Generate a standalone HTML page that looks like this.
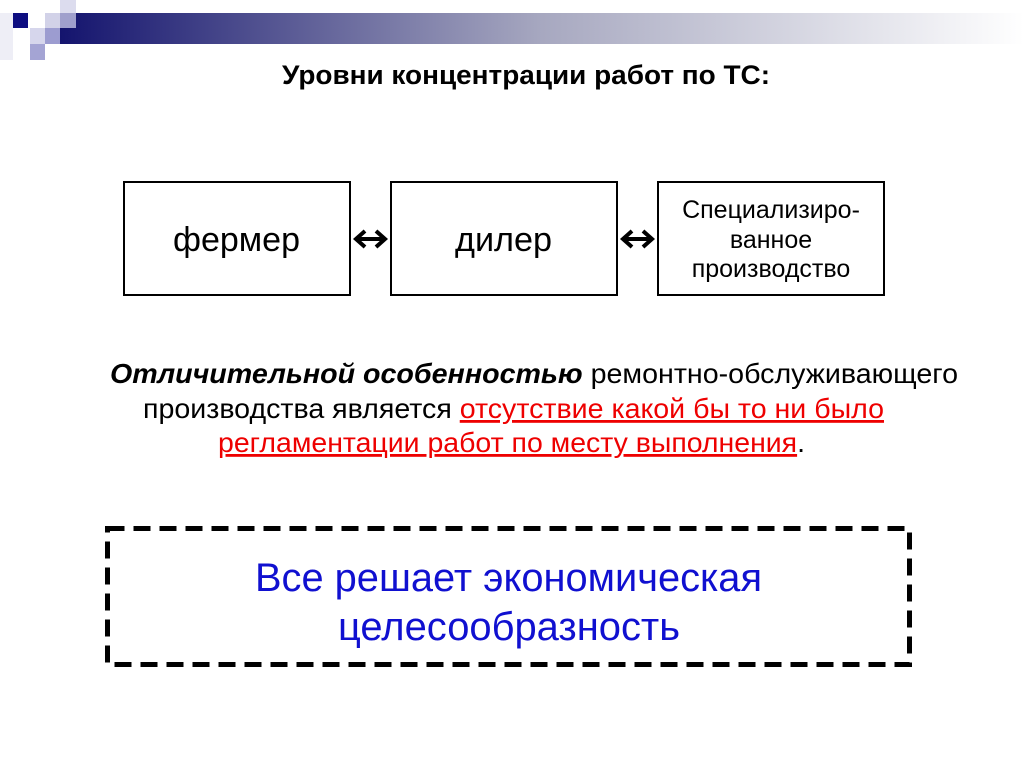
<!DOCTYPE html>
<html><head><meta charset="utf-8"><style>
html,body{margin:0;padding:0;background:#fff;}
svg{display:block;font-family:"Liberation Sans",Arial,sans-serif;}
</style></head><body>
<svg width="1024" height="767" viewBox="0 0 1024 767" xmlns="http://www.w3.org/2000/svg">
<defs>
<linearGradient id="g" x1="0" x2="1" y1="0" y2="0">
<stop offset="0" stop-color="#14146e"/>
<stop offset="0.5" stop-color="#a7a8c0"/>
<stop offset="1" stop-color="#ffffff"/>
</linearGradient>
</defs>
<rect x="0" y="0" width="1024" height="767" fill="#fff"/>
<rect x="60" y="13" width="964" height="31" fill="url(#g)"/>
<rect x="0" y="13" width="13" height="47" fill="#eeeef6"/>
<rect x="60" y="0" width="16" height="13" fill="#dcdcee"/>
<rect x="13" y="13" width="15" height="15" fill="#0d0d80"/>
<rect x="45" y="13" width="15" height="15" fill="#d2d2e8"/>
<rect x="60" y="13" width="16" height="15" fill="#a0a0cc"/>
<rect x="30" y="28" width="15" height="16" fill="#d6d6ec"/>
<rect x="45" y="28" width="15" height="16" fill="#9c9cd0"/>
<rect x="30" y="44" width="15" height="16" fill="#a4a4d4"/>

<text x="282" y="84" font-size="27" font-weight="bold" textLength="488" lengthAdjust="spacingAndGlyphs">Уровни концентрации работ по ТС:</text>

<g fill="#fff" stroke="#000" stroke-width="2">
<rect x="124" y="182" width="226" height="113"/>
<rect x="391" y="182" width="226" height="113"/>
<rect x="658" y="182" width="226" height="113"/>
</g>
<text x="173" y="251" font-size="34" textLength="127" lengthAdjust="spacingAndGlyphs">фермер</text>
<text x="455" y="251" font-size="34" textLength="97" lengthAdjust="spacingAndGlyphs">дилер</text>
<g font-size="25" text-anchor="middle">
<text x="771" y="218">Специализиро-</text>
<text x="771" y="248">ванное</text>
<text x="771" y="277">производство</text>
</g>

<g stroke="#000" stroke-width="4" fill="none" stroke-linejoin="miter">
<line x1="356" y1="239" x2="385" y2="239"/>
<polyline points="365,231 356,239 365,247"/>
<polyline points="376,231 385,239 376,247"/>
<line x1="623" y1="239" x2="652" y2="239"/>
<polyline points="632,231 623,239 632,247"/>
<polyline points="643,231 652,239 643,247"/>
</g>

<g font-size="28">
<text x="110" y="383" textLength="848" lengthAdjust="spacingAndGlyphs"><tspan font-weight="bold" font-style="italic">Отличительной особенностью</tspan> ремонтно-обслуживающего</text>
<text x="143" y="418" textLength="741" lengthAdjust="spacingAndGlyphs">производства является <tspan fill="#e00" text-decoration="underline">отсутствие какой бы то ни было</tspan></text>
<text x="218" y="452" textLength="587" lengthAdjust="spacingAndGlyphs"><tspan fill="#e00" text-decoration="underline">регламентации работ по месту выполнения</tspan>.</text>
</g>

<rect x="107.5" y="528.5" width="802" height="136" fill="none" stroke="#000" stroke-width="5" stroke-dasharray="17 9"/>
<g font-size="40" fill="#1010d0">
<text x="255" y="591" textLength="507" lengthAdjust="spacingAndGlyphs">Все решает экономическая</text>
<text x="338" y="640" textLength="342" lengthAdjust="spacingAndGlyphs">целесообразность</text>
</g>
</svg>
</body></html>
